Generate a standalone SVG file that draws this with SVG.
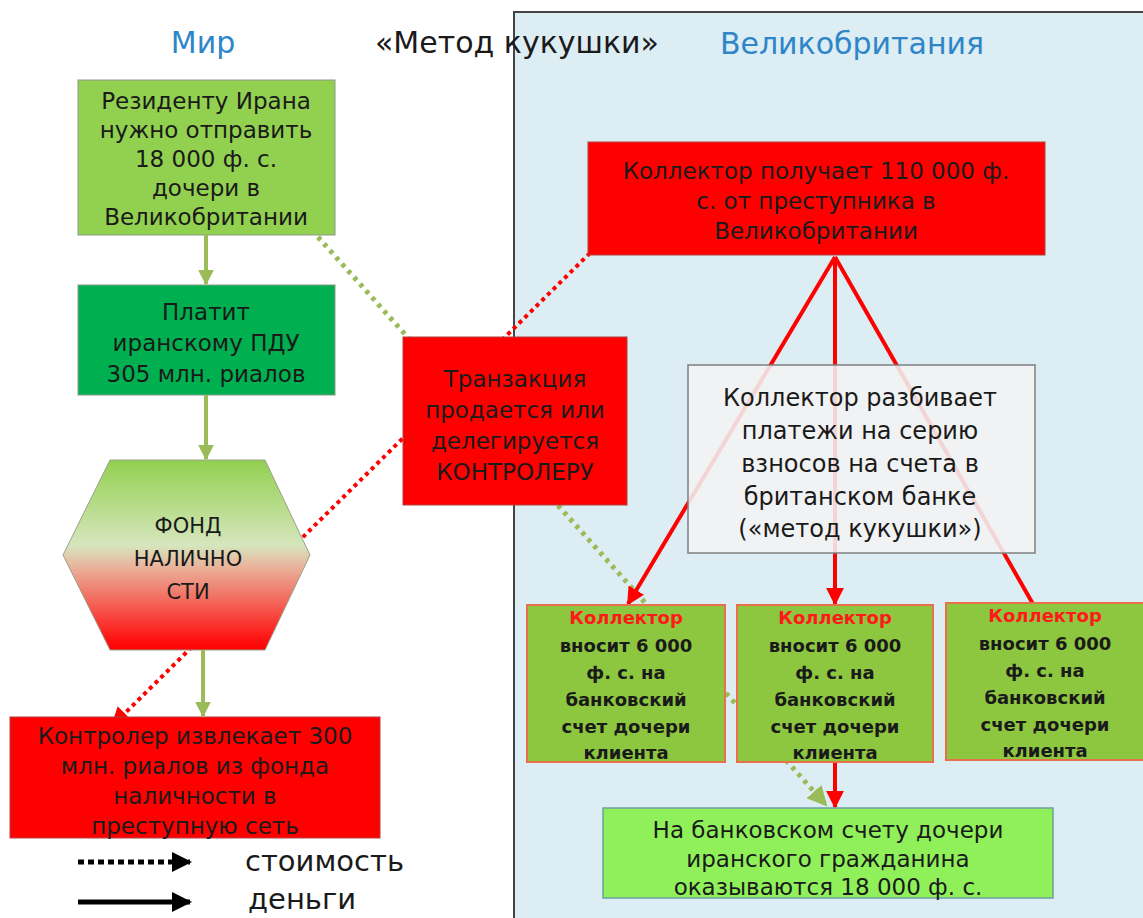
<svg xmlns="http://www.w3.org/2000/svg" width="1143" height="918" viewBox="0 0 1143 918">
<defs>
<style>
text{font-family:"DejaVu Sans","Open Sans",sans-serif;text-anchor:middle;fill:#1a1a1a}
.t{font-size:23px}
.th{font-size:21px}
.tg{font-size:24px}
.tl{font-size:23px}
.tb{font-size:18px;font-weight:bold}
.hd{font-size:30px}
.lg{font-size:29px;text-anchor:start}
.blue{fill:#2e86c8}
.box{stroke:#8a9a8a;stroke-width:1}
.green{fill:#92d050}
.red{fill:#ff0000;stroke:#b04040;stroke-width:1}
.coll{fill:#8dc63f;stroke:#e8704a;stroke-width:2}
.money{stroke:#9bbb59;stroke-width:4;fill:none}
.rline{stroke:#ff0000;stroke-width:4;fill:none}
.odot{stroke:#9bbb59;stroke-width:5;stroke-dasharray:4 5;fill:none}
.rdot{stroke:#ff0000;stroke-width:4;stroke-dasharray:4 4;fill:none}
</style>
<marker id="ag" viewBox="0 0 10 10" refX="9" refY="5" markerWidth="4" markerHeight="4" orient="auto"><path d="M0,0L10,5L0,10z" fill="#9bbb59"/></marker>
<marker id="ar" viewBox="0 0 10 10" refX="9" refY="5" markerWidth="4.5" markerHeight="4.5" orient="auto"><path d="M0,0L10,5L0,10z" fill="#ff0000"/></marker>
<marker id="ard" viewBox="0 0 10 10" refX="9" refY="5" markerWidth="5" markerHeight="5" orient="auto"><path d="M0,0L10,5L0,10z" fill="#ff0000"/></marker>
<marker id="ak" viewBox="0 0 10 10" refX="9" refY="5" markerWidth="4" markerHeight="4" orient="auto"><path d="M0,0L10,5L0,10z" fill="#000"/></marker>
<linearGradient id="hexg" x1="0" y1="0" x2="0" y2="1">
<stop offset="0" stop-color="#92d050"/>
<stop offset="0.45" stop-color="#d6e6bd"/>
<stop offset="0.55" stop-color="#e8b8a0"/>
<stop offset="0.95" stop-color="#ff1010"/>
<stop offset="1" stop-color="#ff0000"/>
</linearGradient>
</defs>
<rect width="1143" height="918" fill="#ffffff"/>
<g id="uk-panel"><rect x="514" y="12" width="640" height="920" fill="#dcedf3" stroke="#444" stroke-width="2"/></g>
<g id="titles">
<text class="hd blue" x="203" y="53">Мир</text>
<text class="hd" x="517" y="53">«Метод кукушки»</text>
<text class="hd blue" x="852" y="54">Великобритания</text>
</g>
<g id="connectors-back">
<line class="odot" x1="318" y1="237" x2="826" y2="805" marker-end="url(#ag)"/>
<line class="rdot" x1="590" y1="253" x2="112" y2="726" marker-end="url(#ard)"/>
</g>
<g id="n1"><rect class="box green" x="78" y="80" width="257" height="155"/>
<text class="t" x="206" y="109">Резиденту Ирана</text>
<text class="t" x="206" y="138">нужно отправить</text>
<text class="t" x="206" y="167">18 000 ф. с.</text>
<text class="t" x="206" y="196">дочери в</text>
<text class="t" x="206" y="225">Великобритании</text></g>
<g id="n2"><rect class="box" fill="#00b050" x="78" y="285" width="257" height="110"/>
<text class="t" x="206" y="320">Платит</text>
<text class="t" x="206" y="351">иранскому ПДУ</text>
<text class="t" x="206" y="382">305 млн. риалов</text></g>
<g id="n3"><polygon points="110,460 265,460 310,555 265,650 110,650 63,555" fill="url(#hexg)" stroke="#9aa08a" stroke-width="1"/>
<text class="th" x="188" y="533">ФОНД</text>
<text class="th" x="188" y="566">НАЛИЧНО</text>
<text class="th" x="188" y="599">СТИ</text></g>
<g id="n4"><rect class="red" x="10" y="717" width="370" height="121"/>
<text class="tl" x="195" y="744">Контролер извлекает 300</text>
<text class="tl" x="195" y="774">млн. риалов из фонда</text>
<text class="tl" x="195" y="804">наличности в</text>
<text class="tl" x="195" y="834">преступную сеть</text></g>
<g id="n5"><rect class="red" x="403" y="337" width="224" height="168"/>
<text class="t" x="515" y="387">Транзакция</text>
<text class="t" x="515" y="418">продается или</text>
<text class="t" x="515" y="449">делегируется</text>
<text class="t" x="515" y="480">КОНТРОЛЕРУ</text></g>
<g id="n6"><rect class="red" x="588" y="142" width="457" height="113"/>
<text class="tl" x="816" y="179">Коллектор получает 110 000 ф.</text>
<text class="tl" x="816" y="209">с. от преступника в</text>
<text class="tl" x="816" y="239">Великобритании</text></g>
<g id="connectors">
<line class="money" x1="206" y1="235" x2="206" y2="284" marker-end="url(#ag)"/>
<line class="money" x1="206" y1="395" x2="206" y2="459" marker-end="url(#ag)"/>
<line class="money" x1="203" y1="650" x2="203" y2="716" marker-end="url(#ag)"/>
<line class="rline" x1="835" y1="257" x2="628" y2="604" marker-end="url(#ar)"/>
<line class="rline" x1="835" y1="257" x2="835" y2="604" marker-end="url(#ar)"/>
<line class="rline" x1="835" y1="257" x2="1033" y2="604"/>
<line class="rline" x1="835" y1="762" x2="835" y2="807" marker-end="url(#ar)"/>
</g>
<g id="n7"><rect x="688" y="365" width="347" height="188" fill="#f2f2f2" fill-opacity="0.88" stroke="#7f7f7f" stroke-width="1.5"/>
<text class="tg" x="860" y="406">Коллектор разбивает</text>
<text class="tg" x="860" y="439">платежи на серию</text>
<text class="tg" x="860" y="472">взносов на счета в</text>
<text class="tg" x="860" y="505">британском банке</text>
<text class="tg" x="860" y="537">(«метод кукушки»)</text></g>
<g id="n8"><rect class="coll" x="527" y="605" width="198" height="157"/>
<text class="tb" x="626" y="624" style="fill:#ff1a1a">Коллектор</text>
<text class="tb" x="626" y="652">вносит 6 000</text>
<text class="tb" x="626" y="679">ф. с. на</text>
<text class="tb" x="626" y="706">банковский</text>
<text class="tb" x="626" y="733">счет дочери</text>
<text class="tb" x="626" y="759">клиента</text></g>
<g id="n9"><rect class="coll" x="737" y="605" width="196" height="157"/>
<text class="tb" x="835" y="624" style="fill:#ff1a1a">Коллектор</text>
<text class="tb" x="835" y="652">вносит 6 000</text>
<text class="tb" x="835" y="679">ф. с. на</text>
<text class="tb" x="835" y="706">банковский</text>
<text class="tb" x="835" y="733">счет дочери</text>
<text class="tb" x="835" y="759">клиента</text></g>
<g id="n10"><rect class="coll" x="946" y="603" width="200" height="157"/>
<text class="tb" x="1045" y="622" style="fill:#ff1a1a">Коллектор</text>
<text class="tb" x="1045" y="650">вносит 6 000</text>
<text class="tb" x="1045" y="677">ф. с. на</text>
<text class="tb" x="1045" y="704">банковский</text>
<text class="tb" x="1045" y="731">счет дочери</text>
<text class="tb" x="1045" y="757">клиента</text></g>
<g id="n11"><rect x="603" y="808" width="450" height="90" fill="#8ff05a" stroke="#6f9fa0" stroke-width="1.5"/>
<text class="tl" x="828" y="838">На банковском счету дочери</text>
<text class="tl" x="828" y="867">иранского гражданина</text>
<text class="tl" x="828" y="895">оказываются 18 000 ф. с.</text></g>
<g id="legend">
<line x1="78" y1="862" x2="190" y2="862" stroke="#000" stroke-width="5" stroke-dasharray="6 4" marker-end="url(#ak)"/>
<line x1="78" y1="902" x2="190" y2="902" stroke="#000" stroke-width="5" marker-end="url(#ak)"/>
<text class="lg" x="245" y="871">стоимость</text>
<text class="lg" x="248" y="909">деньги</text>
</g>
</svg>
